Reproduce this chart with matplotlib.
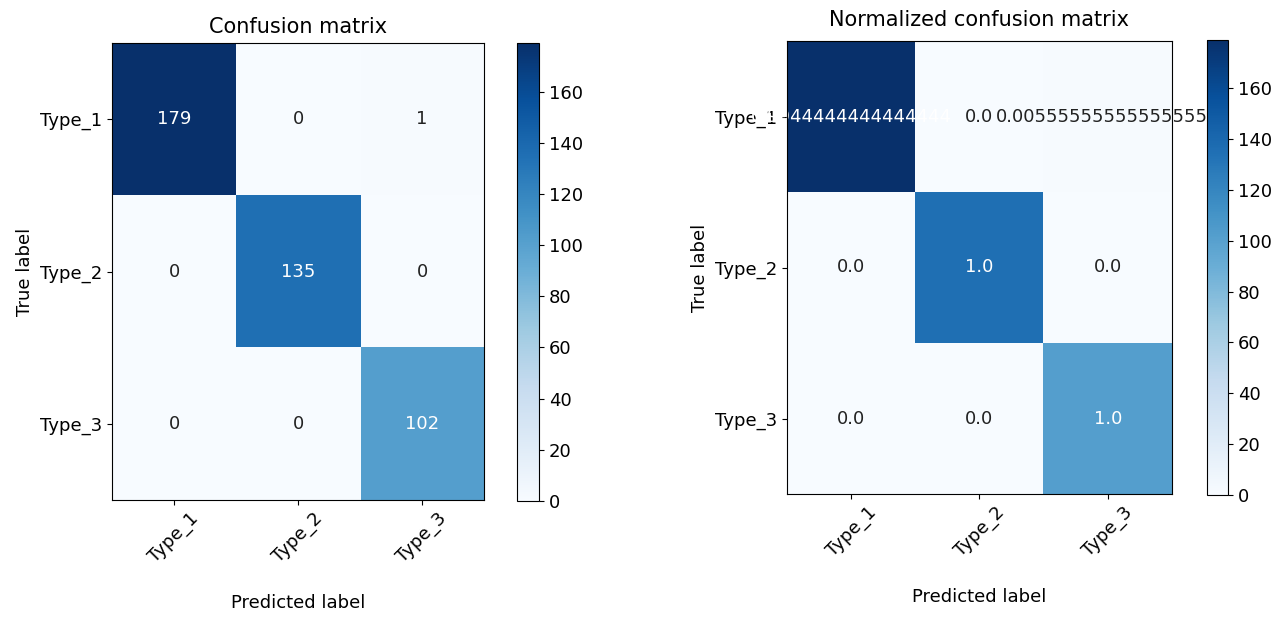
import numpy as np
import matplotlib
matplotlib.use('Agg')
import matplotlib.pyplot as plt

classes = ['Type_1', 'Type_2', 'Type_3']

# raw counts (rows = true label, cols = predicted label)
counts = [[179, 0, 1],
          [0, 135, 0],
          [0, 0, 102]]

# normalized values as printed in the right panel
normalized = [[0.9944444444444444, 0.0, 0.005555555555555556],
              [0.0, 1.0, 0.0],
              [0.0, 0.0, 1.0]]

cbar_ticks = [0, 20, 40, 60, 80, 100, 120, 140, 160]

W, H = 1283, 624
fig = plt.figure(figsize=(W / 100, H / 100), dpi=100)


def box(x0, y0, x1, y1):
    # pixel box -> figure fraction
    return [x0 / W, 1 - y1 / H, (x1 - x0) / W, (y1 - y0) / H]


def draw_cm(ax_box, cax_box, texts, title, title_pad):
    ax = fig.add_axes(box(*ax_box))
    cax = fig.add_axes(box(*cax_box))
    data = np.array(counts)
    im = ax.imshow(data, interpolation='nearest', cmap=plt.cm.Blues,
                   aspect='auto', vmin=0, vmax=data.max())
    ax.set_title(title, fontsize=15, pad=title_pad)
    cb = fig.colorbar(im, cax=cax)
    cb.set_ticks(cbar_ticks)
    cb.ax.tick_params(labelsize=13)
    cb.outline.set_linewidth(0.8)

    ticks = np.arange(len(classes))
    ax.set_xticks(ticks)
    ax.set_xticklabels(classes, rotation=45, fontsize=13)
    ax.set_yticks(ticks)
    ax.set_yticklabels(classes, fontsize=13)

    thresh = data.max() / 2.
    for i in range(len(classes)):
        for j in range(len(classes)):
            # below the axis artists so tick labels and spines stay on top
            ax.text(j, i, str(texts[i][j]), ha='center', va='center',
                    fontsize=13, zorder=2,
                    color='white' if data[i][j] > thresh else '#222222')

    ax.set_ylabel('True label', fontsize=13)
    ax.set_xlabel('Predicted label', fontsize=13, labelpad=20)
    ax.set_zorder(0)
    cax.set_zorder(1)
    return ax


draw_cm((112, 43, 484, 500), (517, 43, 539, 501), counts,
        'Confusion matrix', 7)
draw_cm((787, 41, 1172, 494), (1207, 40, 1228, 495), normalized,
        'Normalized confusion matrix', 11)

fig.savefig('out.png', dpi=100)
